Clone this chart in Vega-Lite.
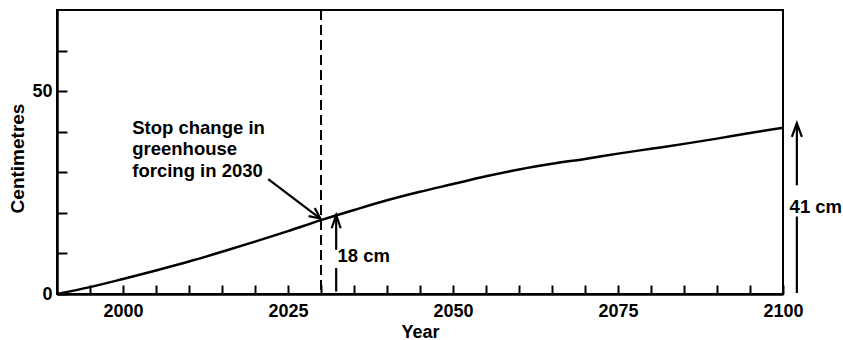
{
  "$schema": "https://vega.github.io/schema/vega-lite/v6.json",
  "width": 726,
  "height": 284,
  "autosize": "none",
  "padding": {"left": 57, "top": 10, "right": 60, "bottom": 46},
  "background": "white",
  "config": {
    "view": {"stroke": "black", "strokeWidth": 2},
    "font": "Liberation Sans",
    "axis": {
      "domainColor": "black",
      "domainWidth": 2.5,
      "tickColor": "black",
      "tickWidth": 2,
      "grid": false,
      "labelFont": "Liberation Sans",
      "labelFontSize": 18,
      "labelFontWeight": "bold",
      "labelColor": "black",
      "titleFont": "Liberation Sans",
      "titleFontSize": 18,
      "titleFontWeight": "bold",
      "titleColor": "black"
    }
  },
  "datasets": {
    "curve": [
      {"year": 1990, "cm": 0},
      {"year": 1995, "cm": 1.7},
      {"year": 2000, "cm": 3.7},
      {"year": 2005, "cm": 5.8},
      {"year": 2010, "cm": 8.0},
      {"year": 2015, "cm": 10.4},
      {"year": 2020, "cm": 12.9},
      {"year": 2025, "cm": 15.5},
      {"year": 2030, "cm": 18.2},
      {"year": 2035, "cm": 20.7},
      {"year": 2040, "cm": 23.1},
      {"year": 2045, "cm": 25.2},
      {"year": 2050, "cm": 27.1},
      {"year": 2055, "cm": 29.0},
      {"year": 2060, "cm": 30.7},
      {"year": 2065, "cm": 32.1},
      {"year": 2070, "cm": 33.3},
      {"year": 2075, "cm": 34.6},
      {"year": 2080, "cm": 35.8},
      {"year": 2085, "cm": 37.0},
      {"year": 2090, "cm": 38.3},
      {"year": 2095, "cm": 39.7},
      {"year": 2100, "cm": 41.0}
    ],
    "marker": [{"year": 2030}],
    "arrows": [
      {"seg": "a1", "ord": 1, "year": 2022.0, "cm": 28.3},
      {"seg": "a1", "ord": 2, "year": 2029.9, "cm": 18.6},
      {"seg": "a1h", "ord": 1, "year": 2029.05, "cm": 21.2},
      {"seg": "a1h", "ord": 2, "year": 2029.9, "cm": 18.6},
      {"seg": "a1h", "ord": 3, "year": 2028.12, "cm": 19.2},
      {"seg": "b1", "ord": 1, "year": 2032.3, "cm": 19.5},
      {"seg": "b1", "ord": 2, "year": 2032.3, "cm": 10.9},
      {"seg": "b2", "ord": 1, "year": 2032.3, "cm": 6.4},
      {"seg": "b2", "ord": 2, "year": 2032.3, "cm": 0.6},
      {"seg": "bh", "ord": 1, "year": 2031.62, "cm": 16.2},
      {"seg": "bh", "ord": 2, "year": 2032.3, "cm": 19.5},
      {"seg": "bh", "ord": 3, "year": 2032.98, "cm": 16.2},
      {"seg": "c1", "ord": 1, "year": 2102.1, "cm": 42.1},
      {"seg": "c1", "ord": 2, "year": 2102.1, "cm": 26.8},
      {"seg": "c2", "ord": 1, "year": 2102.1, "cm": 19.1},
      {"seg": "c2", "ord": 2, "year": 2102.1, "cm": 0.25},
      {"seg": "ch", "ord": 1, "year": 2101.34, "cm": 38.7},
      {"seg": "ch", "ord": 2, "year": 2102.1, "cm": 42.1},
      {"seg": "ch", "ord": 3, "year": 2102.86, "cm": 38.7}
    ],
    "labels": [
      {"label": "Stop change in", "year": 2001.4, "cm": 39.4},
      {"label": "greenhouse", "year": 2001.4, "cm": 34.2},
      {"label": "forcing in 2030", "year": 2001.4, "cm": 28.9},
      {"label": "18 cm", "year": 2032.5, "cm": 8.0},
      {"label": "41 cm", "year": 2101.0, "cm": 20.0}
    ]
  },
  "layer": [
    {
      "data": {"name": "curve"},
      "mark": {"type": "line", "color": "black", "strokeWidth": 2.5, "interpolate": "monotone"},
      "encoding": {
        "x": {
          "field": "year", "type": "quantitative",
          "scale": {"domain": [1990, 2100], "nice": false, "zero": false},
          "axis": {
            "title": "Year",
            "values": [1995, 2000, 2005, 2010, 2015, 2020, 2025, 2030, 2035, 2040, 2045, 2050, 2055, 2060, 2065, 2070, 2075, 2080, 2085, 2090, 2095, 2100],
            "tickCount": 40,
            "format": "d",
            "labelExpr": "datum.value % 25 == 0 ? datum.label : ''",
            "tickSize": -9,
            "labelPadding": 17,
            "labelFlush": false,
            "labelOverlap": false,
            "titlePadding": 3
          }
        },
        "y": {
          "field": "cm", "type": "quantitative",
          "scale": {"domain": [0, 70], "nice": false},
          "axis": {
            "title": "Centimetres",
            "titleFontSize": 19,
            "titleY": 148,
            "values": [0, 10, 20, 30, 40, 50, 60],
            "tickCount": 20,
            "labelExpr": "datum.value % 50 == 0 ? datum.label : ''",
            "tickSize": -10,
            "labelPadding": 15,
            "labelFlush": false,
            "labelOverlap": false,
            "titlePadding": 4
          }
        }
      }
    },
    {
      "data": {"name": "marker"},
      "mark": {"type": "rule", "color": "black", "strokeWidth": 2, "strokeDash": [10, 5]},
      "encoding": {"x": {"field": "year", "type": "quantitative"}}
    },
    {
      "data": {"name": "arrows"},
      "mark": {"type": "line", "color": "black", "strokeWidth": 2.2, "clip": false},
      "encoding": {
        "x": {"field": "year", "type": "quantitative"},
        "y": {"field": "cm", "type": "quantitative"},
        "detail": {"field": "seg"},
        "order": {"field": "ord", "type": "quantitative"}
      }
    },
    {
      "data": {"name": "labels"},
      "mark": {"type": "text", "align": "left", "baseline": "alphabetic", "font": "Liberation Sans", "fontSize": 18.5, "fontWeight": "bold", "color": "black", "clip": false},
      "encoding": {
        "x": {"field": "year", "type": "quantitative"},
        "y": {"field": "cm", "type": "quantitative"},
        "text": {"field": "label"}
      }
    }
  ]
}
